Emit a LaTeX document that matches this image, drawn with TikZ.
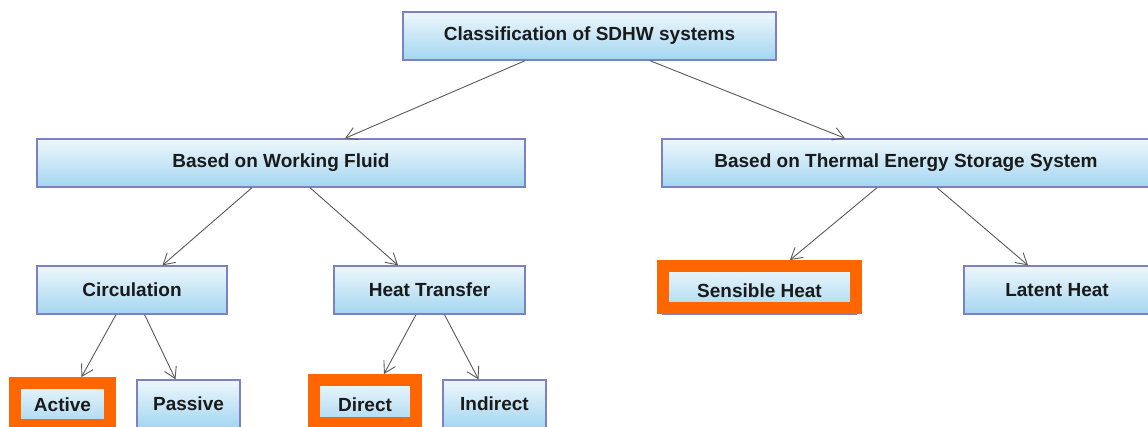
\documentclass[tikz,border=0pt]{standalone}
\usepackage{fontspec}
\setmainfont{Liberation Sans}
\usetikzlibrary{arrows.meta}
\definecolor{boxtop}{HTML}{EEF7FC}
\definecolor{boxbot}{HTML}{A3D6F0}
\definecolor{boxline}{HTML}{7C80C4}
\definecolor{hilite}{HTML}{FF6600}
\definecolor{arrowgrey}{HTML}{5A5A5A}
\definecolor{txt}{HTML}{1A1A1A}
\tikzset{
  catbox/.style={rectangle, draw=boxline, line width=1.4pt, top color=boxtop, bottom color=boxbot,
    inner sep=0pt, minimum height=48pt, text=txt,
    font=\fontsize{19}{22}\selectfont\bfseries},
  hiframe/.style={rectangle, draw=hilite, line width=12pt, inner sep=0pt},
  link/.style={draw=arrowgrey, line width=0.9pt, -{Straight Barb[length=11pt,width=13pt]}}
}
\begin{document}
\begin{tikzpicture}[x=1pt, y=-1pt]
  \fill[white] (0,0) rectangle (1148,427);
  \useasboundingbox (0,0) rectangle (1148,427);

  % level 0
  \node[catbox, minimum width=373pt] (top) at (589.5,36) {Classification of SDHW systems};
  % level 1
  \node[catbox, minimum width=488pt] (wf)  at (281,163)  {Based on Working Fluid};
  \node[catbox, minimum width=488pt] (tes) at (906,163)  {Based on Thermal Energy Storage System};
  % level 2
  \node[catbox, minimum width=190pt] (circ) at (132,290)   {Circulation};
  \node[catbox, minimum width=191pt] (ht)   at (429.5,290) {Heat Transfer};
  \node[catbox, minimum width=193pt] (sens) at (759.5,290.5) {Sensible Heat};
  \node[catbox, minimum width=186pt] (lat)  at (1057,290)  {Latent Heat};
  % level 3
  \node[catbox, minimum width=95pt]  (act)  at (62.5,405)  {Active};
  \node[catbox, minimum width=103pt] (pas)  at (188.5,404) {Passive};
  \node[catbox, minimum width=102pt] (dir)  at (365,405)   {Direct};
  \node[catbox, minimum width=103pt] (ind)  at (494.5,404) {Indirect};

  % orange highlight frames
  \node[hiframe, minimum width=193pt, minimum height=42pt] (sensf) at (759.5,287) {};
  \node[hiframe, minimum width=95pt,  minimum height=42pt] (actf)  at (62.5,404)  {};
  \node[hiframe, minimum width=102pt, minimum height=43pt] (dirf)  at (365,401.5) {};

  % connectors
  \draw[link] ([xshift=-64.5pt]top.south) -- ([xshift=64pt]wf.north);
  \draw[link] ([xshift=60.5pt]top.south)  -- ([xshift=-61pt]tes.north);
  \draw[link] ([xshift=-29pt]wf.south)    -- ([xshift=30.5pt]circ.north);
  \draw[link] ([xshift=29pt]wf.south)     -- ([xshift=-31.5pt]ht.north);
  \draw[link] ([xshift=-29pt]tes.south)   -- ([xshift=30.5pt]sensf.north);
  \draw[link] ([xshift=31pt]tes.south)    -- ([xshift=-29pt]lat.north);
  \draw[link] ([xshift=-16pt]circ.south)  -- ([xshift=19pt]actf.north);
  \draw[link] ([xshift=12.6pt]circ.south) -- ([xshift=-13pt]pas.north);
  \draw[link] ([xshift=-13.5pt]ht.south)  -- ([xshift=19pt]dirf.north);
  \draw[link] ([xshift=15pt]ht.south)     -- ([xshift=-16pt]ind.north);
\end{tikzpicture}
\end{document}
